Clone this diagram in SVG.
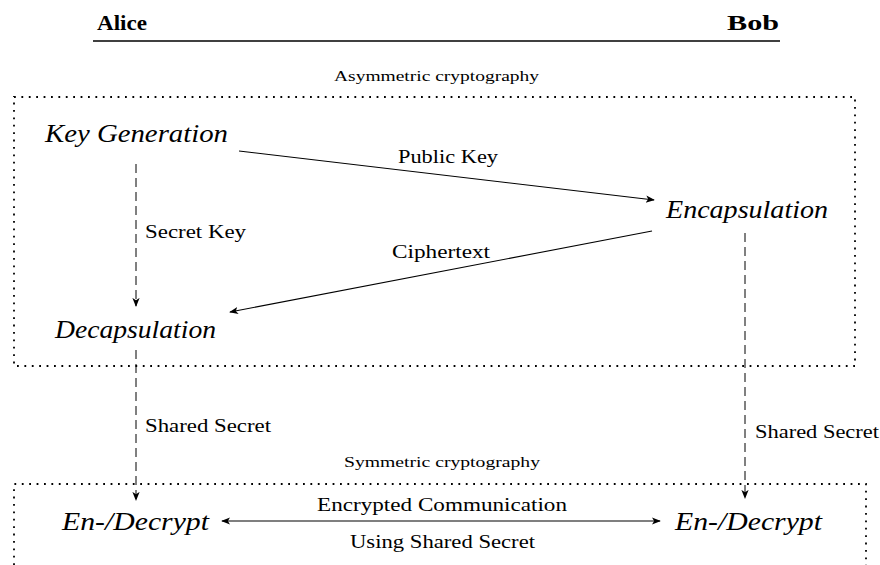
<svg xmlns="http://www.w3.org/2000/svg" width="880" height="565" viewBox="0 0 880 565">
  <defs>
    <marker id="arr" viewBox="0 0 10 10" refX="9" refY="5" markerWidth="9" markerHeight="9" markerUnits="userSpaceOnUse" orient="auto-start-reverse">
      <path d="M0,1 L10,5 L0,9 L2.5,5 Z" fill="#000"/>
    </marker>
  </defs>

  <rect width="880" height="565" fill="#fff"/>

  <!-- column headers -->
  <g id="header" font-family="Liberation Serif" font-weight="bold" font-size="21" fill="#000">
    <text x="97" y="30" textLength="50" lengthAdjust="spacingAndGlyphs">Alice</text>
    <text x="727" y="30" textLength="52" lengthAdjust="spacingAndGlyphs">Bob</text>
    <line x1="93" y1="41" x2="780" y2="41" stroke="#000" stroke-width="1.3"/>
  </g>

  <!-- frames: dotted outlines with small captions -->
  <g id="frames" fill="none" stroke="#000" stroke-width="1.8" stroke-dasharray="1.8 5.6">
    <rect x="14" y="97" width="841" height="269"/>
    <path d="M14,565 L14,484 L866,484 L866,565"/>
  </g>
  <g id="frame-captions" font-family="Liberation Serif" font-size="14" fill="#000">
    <text x="334" y="81" textLength="205" lengthAdjust="spacingAndGlyphs">Asymmetric cryptography</text>
    <text x="344" y="467" textLength="196" lengthAdjust="spacingAndGlyphs">Symmetric cryptography</text>
  </g>

  <!-- connectors -->
  <g id="connectors" fill="none" stroke="#000">
    <g stroke-width="1.1">
      <line x1="239" y1="151" x2="654" y2="200" marker-end="url(#arr)"/>
      <line x1="652" y1="231" x2="230" y2="312" marker-end="url(#arr)"/>
      <line x1="222" y1="521" x2="660" y2="521" marker-start="url(#arr)" marker-end="url(#arr)"/>
    </g>
    <g stroke-width="1" stroke-dasharray="9 5">
      <line x1="136" y1="164" x2="136" y2="306" marker-end="url(#arr)"/>
      <line x1="136" y1="350" x2="136" y2="500" marker-end="url(#arr)"/>
      <line x1="745" y1="233" x2="745" y2="498" marker-end="url(#arr)"/>
    </g>
  </g>
  <g id="connector-labels" font-family="Liberation Serif" font-size="18" fill="#000">
    <text x="398" y="163" textLength="100" lengthAdjust="spacingAndGlyphs">Public Key</text>
    <text x="392" y="258" textLength="98" lengthAdjust="spacingAndGlyphs">Ciphertext</text>
    <text x="145" y="238" textLength="101" lengthAdjust="spacingAndGlyphs">Secret Key</text>
    <text x="145" y="432" textLength="126" lengthAdjust="spacingAndGlyphs">Shared Secret</text>
    <text x="755" y="438" textLength="124" lengthAdjust="spacingAndGlyphs">Shared Secret</text>
    <text x="317" y="511" textLength="250" lengthAdjust="spacingAndGlyphs">Encrypted Communication</text>
    <text x="350" y="548" textLength="185" lengthAdjust="spacingAndGlyphs">Using Shared Secret</text>
  </g>

  <!-- nodes -->
  <g font-family="Liberation Serif" font-style="italic" font-size="25" fill="#000">
    <g id="keygen"><text x="45" y="142" textLength="183" lengthAdjust="spacingAndGlyphs">Key Generation</text></g>
    <g id="encap"><text x="666" y="218" textLength="162" lengthAdjust="spacingAndGlyphs">Encapsulation</text></g>
    <g id="decap"><text x="55" y="338" textLength="161" lengthAdjust="spacingAndGlyphs">Decapsulation</text></g>
    <g id="alice-crypt"><text x="62" y="530" textLength="147" lengthAdjust="spacingAndGlyphs">En-/Decrypt</text></g>
    <g id="bob-crypt"><text x="675" y="530" textLength="147" lengthAdjust="spacingAndGlyphs">En-/Decrypt</text></g>
  </g>
</svg>
